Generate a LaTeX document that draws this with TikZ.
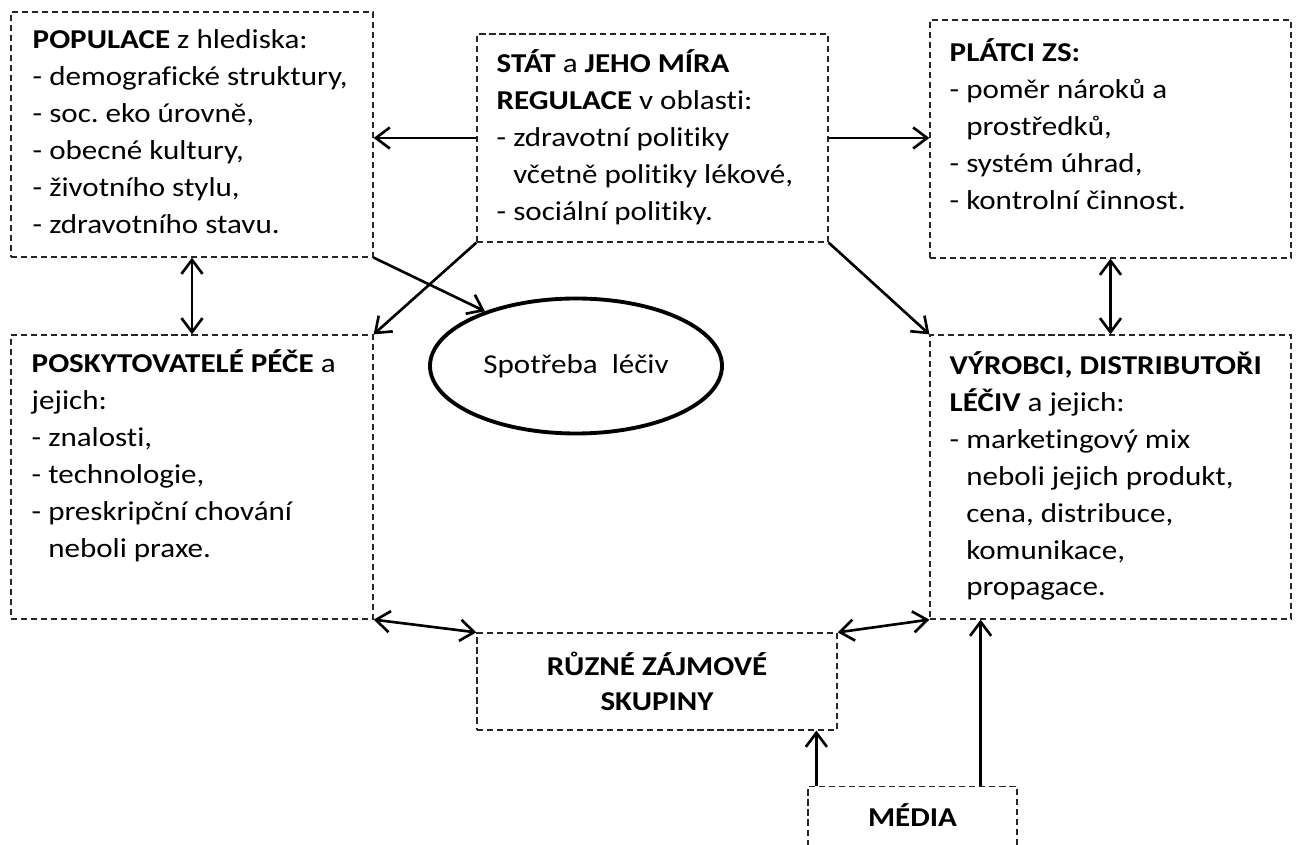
\documentclass[tikz,border=0pt]{standalone}
\usepackage{fontspec}
\setmainfont[FakeStretch=1.14, Ligatures={TeX,NoCommon}]{Carlito}
\usetikzlibrary{arrows.meta,shapes.geometric,positioning}
\frenchspacing

\newcommand{\odsad}{\phantom{- }}

\begin{document}
\begin{tikzpicture}[
    box/.style={rectangle, draw=black!85, dash pattern=on 3.5pt off 2.2pt, line width=0.7pt, inner sep=0pt},
    txt/.style={align=left, inner sep=0pt, font=\fontsize{15.5}{21}\selectfont},
    arr/.style={-{Straight Barb[length=8pt,width=12pt]}, line width=1.5pt},
    dvoj/.style={{Straight Barb[length=8pt,width=12pt]}-{Straight Barb[length=8pt,width=12pt]}, line width=1.5pt}
  ]
    \useasboundingbox (0,0) rectangle (25.98,16.88);
    % ramecky
    \node[box, minimum width=7.24cm, minimum height=4.90cm] (pop) at (3.84,14.19) {};
    \node[box, minimum width=7.02cm, minimum height=4.16cm] (stat) at (13.05,14.12) {};
    \node[box, minimum width=7.22cm, minimum height=4.76cm] (platci) at (22.21,14.10) {};
    \node[box, minimum width=7.24cm, minimum height=5.68cm] (posk) at (3.84,7.34) {};
    \node[box, minimum width=7.22cm, minimum height=5.68cm] (vyr) at (22.21,7.34) {};
    \node[box, minimum width=7.20cm, minimum height=1.94cm, align=center, font=\fontsize{15.5}{20}\selectfont\bfseries] (ruzne) at (13.14,3.25) {RŮZNÉ ZÁJMOVÉ\\SKUPINY};
    \node[box, minimum width=4.18cm, minimum height=1.6cm, anchor=north] (media) at (18.25,1.16) {};
    \node[txt, font=\fontsize{15.5}{21}\selectfont\bfseries] (medtxt) at (18.25,0.58) {MÉDIA};
    \node[ellipse, draw, line width=2.2pt, minimum width=5.84cm, minimum height=2.70cm, inner sep=0pt, font=\fontsize{15.5}{21}\selectfont] (spot) at (11.52,9.56) {Spotřeba\ \ léčiv};

    % texty
    \node[txt, below right=0.22cm and 0.44cm of pop.north west] (poptxt) {\strut\textbf{POPULACE} z hlediska:\\
      - demografické struktury,\\
      - soc. eko úrovně,\\
      - obecné kultury,\\
      - životního stylu,\\
      - zdravotního stavu.};
    \node[txt, below right=0.26cm and 0.40cm of stat.north west] (stattxt) {\strut\textbf{STÁT} a \textbf{JEHO MÍRA}\\
      \textbf{REGULACE} v oblasti:\\
      - zdravotní politiky\\
      \odsad včetně politiky lékové,\\
      - sociální politiky.};
    \node[txt, below right=0.32cm and 0.40cm of platci.north west] (platcitxt) {\strut\textbf{PLÁTCI ZS:}\\
      - poměr nároků a\\
      \odsad prostředků,\\
      - systém úhrad,\\
      - kontrolní činnost.};
    \node[txt, below right=0.24cm and 0.42cm of posk.north west] (posktxt) {\strut\textbf{POSKYTOVATELÉ PÉČE} a\\
      jejich:\\
      - znalosti,\\
      - technologie,\\
      - preskripční chování\\
      \odsad neboli praxe.};
    \node[txt, below right=0.28cm and 0.40cm of vyr.north west] (vyrtxt) {\strut\textbf{VÝROBCI, DISTRIBUTOŘI}\\
      \textbf{LÉČIV} a jejich:\\
      - marketingový mix\\
      \odsad neboli jejich produkt,\\
      \odsad cena, distribuce,\\
      \odsad komunikace,\\
      \odsad propagace.};

    % sipky
    \draw[arr] (stat.west) -- (stat.west -| pop.east);
    \draw[arr] (stat.east) -- (stat.east -| platci.west);
    \draw[dvoj] (pop.south) -- (posk.north);
    \draw[dvoj] (platci.south) -- (vyr.north);
    \draw[arr] (pop.south east) -- (spot.149);
    \draw[arr] (stat.south west) -- (posk.north east);
    \draw[arr] (stat.south east) -- (vyr.north west);
    \draw[dvoj] (posk.south east) -- (ruzne.north west);
    \draw[dvoj] (vyr.south west) -- (ruzne.north east);
    \draw[arr] ([xshift=0.18cm]media.north west) -- ([xshift=0.18cm]media.north west |- ruzne.south);
    \draw[arr] ([xshift=-0.74cm]media.north east) -- ([xshift=-0.74cm]media.north east |- vyr.south);
\end{tikzpicture}
\end{document}
